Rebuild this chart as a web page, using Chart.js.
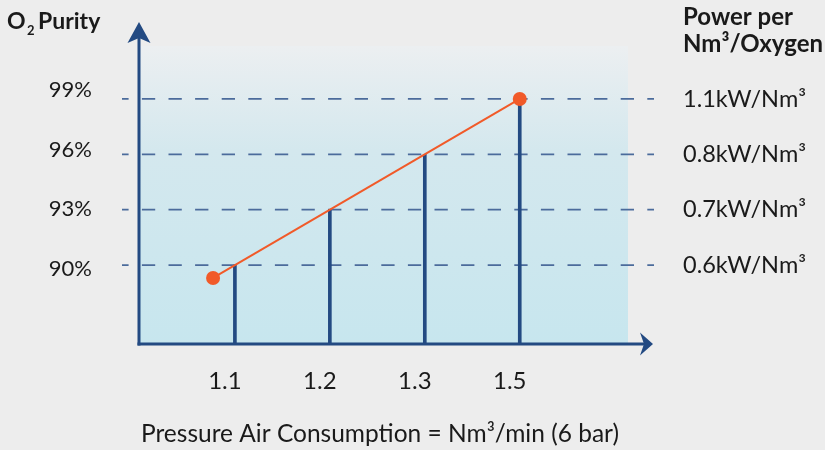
<!DOCTYPE html>
<html>
<head>
<meta charset="utf-8">
<script src="https://cdn.jsdelivr.net/npm/chart.js@4.4.1/dist/chart.umd.min.js"></script>
<style>
  html, body { margin: 0; padding: 0; background: #ededed; }
  #wrap { width: 825px; height: 450px; }
</style>
</head>
<body>
<div id="wrap"><canvas id="chart"></canvas></div>
<script>
// Values
const xPositions = [1, 2, 3, 4];
const xLabels = ['1.1', '1.2', '1.3', '1.5'];
const purityLevels = [90, 93, 96, 99];
const purityLabels = ['90%', '93%', '96%', '99%'];
const powerLabels = ['0.6kW/Nm³', '0.7kW/Nm³', '0.8kW/Nm³', '1.1kW/Nm³'];
const trendX = [0.77, 4];
const trendY = [89.3, 99];

// Styling
const AXIS = '#234a82';
const DASH = '#4b6b9b';
const ORANGE = '#f15a29';
const TEXT = '#1a1a1a';
const FONT = 'Lato, "Open Sans", sans-serif';

// fixed axis box sizes, no extra padding from tick labels
function fixWidth(w) {
    return s => { s.width = w; s.paddingTop = 0; s.paddingBottom = 0; };
}

// Decoration: plot background, dashed guides, axes with arrow heads, headers
const decorPlugin = {
    id: 'decor',
    beforeDatasetsDraw(chart) {
        const { ctx, chartArea: a, scales } = chart;
        ctx.save();
        const g = ctx.createLinearGradient(0, a.top, 0, a.bottom);
        g.addColorStop(0, '#eceff1');
        g.addColorStop(0.35, '#d4e8ee');
        g.addColorStop(1, '#c7e6ee');
        ctx.fillStyle = g;
        ctx.fillRect(a.left, a.top, a.right - a.left, a.bottom - a.top);

        // dashed guides at each purity level
        ctx.strokeStyle = DASH;
        ctx.lineWidth = 1.8;
        ctx.setLineDash([13.3, 13.3]);
        ctx.lineDashOffset = 6.7;
        purityLevels.forEach(v => {
            const py = scales.y.getPixelForValue(v);
            ctx.beginPath();
            ctx.moveTo(a.left - 17, py);
            ctx.lineTo(a.right + 26, py);
            ctx.stroke();
        });
        ctx.restore();
    },
    afterDraw(chart) {
        const { ctx, chartArea: a } = chart;
        const x0 = a.left, y0 = a.bottom;
        ctx.save();
        ctx.strokeStyle = AXIS;
        ctx.fillStyle = AXIS;
        ctx.lineWidth = 3;

        // y axis + arrow
        ctx.beginPath();
        ctx.moveTo(x0, y0 + 1.5);
        ctx.lineTo(x0, a.top - 8);
        ctx.stroke();
        ctx.beginPath();
        ctx.moveTo(x0, a.top - 24);
        ctx.lineTo(x0 + 11.5, a.top - 3);
        ctx.lineTo(x0, a.top - 8);
        ctx.lineTo(x0 - 11.5, a.top - 3);
        ctx.closePath();
        ctx.fill();

        // x axis + arrow
        ctx.beginPath();
        ctx.moveTo(x0 - 1.5, y0);
        ctx.lineTo(a.right + 16, y0);
        ctx.stroke();
        ctx.beginPath();
        ctx.moveTo(a.right + 25, y0);
        ctx.lineTo(a.right + 12, y0 - 11.5);
        ctx.lineTo(a.right + 16, y0);
        ctx.lineTo(a.right + 12, y0 + 11.5);
        ctx.closePath();
        ctx.fill();

        // headers and x title
        ctx.fillStyle = TEXT;
        ctx.textBaseline = 'alphabetic';
        ctx.textAlign = 'left';
        ctx.font = 'bold 23px ' + FONT;
        ctx.fillText('O', 7, 29);
        ctx.fillText('Purity', 38, 29);
        ctx.font = 'bold 13px ' + FONT;
        ctx.fillText('2', 27, 35);
        ctx.font = 'bold 24px ' + FONT;
        ctx.fillText('Power per', 683, 25);
        ctx.fillText('Nm³/Oxygen', 683, 52);
        ctx.font = '24.5px ' + FONT;
        ctx.textAlign = 'center';
        ctx.fillText('Pressure Air Consumption = Nm³/min (6 bar)', 380, 442);
        ctx.restore();
    }
};

const Y_MIN = 85.72, Y_MAX = 101.87;

new Chart(document.getElementById('chart'), {
    data: {
        datasets: [
            {
                type: 'line',
                order: 0,
                data: trendX.map((x, i) => ({ x: x, y: trendY[i] })),
                borderColor: ORANGE,
                borderWidth: 2,
                pointRadius: 7,
                pointBackgroundColor: ORANGE,
                pointBorderWidth: 0,
                clip: false
            },
            {
                type: 'bar',
                order: 1,
                data: xPositions.map((x, i) => ({ x: x, y: purityLevels[i] })),
                backgroundColor: AXIS,
                barThickness: 3
            }
        ]
    },
    options: {
        responsive: true,
        maintainAspectRatio: false,
        animation: false,
        layout: { padding: { top: 46, left: 0, right: 0, bottom: 0 } },
        plugins: { legend: { display: false }, tooltip: { enabled: false } },
        scales: {
            x: {
                type: 'linear',
                offset: false,
                min: -0.01,
                max: 5.14,
                grid: { display: false, drawTicks: false },
                border: { display: false },
                afterBuildTicks: axis => { axis.ticks = xPositions.map(v => ({ value: v })); },
                afterFit: s => { s.height = 106; s.paddingLeft = 0; s.paddingRight = 0; },
                ticks: {
                    padding: 23,
                    labelOffset: -10,
                    color: TEXT,
                    font: { family: FONT, size: 24 },
                    callback: v => xLabels[xPositions.indexOf(v)]
                }
            },
            y: {
                type: 'linear',
                display: false,
                min: Y_MIN,
                max: Y_MAX
            },
            yl: {
                type: 'linear',
                position: 'left',
                min: 86.19,
                max: 101.22,
                grid: { display: false, drawTicks: false },
                border: { display: false },
                afterBuildTicks: axis => { axis.ticks = purityLevels.map(v => ({ value: v })); },
                afterFit: fixWidth(139),
                ticks: {
                    padding: 47,
                    color: TEXT,
                    font: { family: FONT, size: 22 },
                    callback: v => purityLabels[purityLevels.indexOf(v)]
                }
            },
            y2: {
                type: 'linear',
                position: 'right',
                min: Y_MIN,
                max: Y_MAX,
                grid: { display: false, drawTicks: false },
                border: { display: false },
                afterBuildTicks: axis => { axis.ticks = purityLevels.map(v => ({ value: v })); },
                afterFit: fixWidth(197),
                ticks: {
                    padding: 55,
                    color: TEXT,
                    font: { family: FONT, size: 23.5 },
                    callback: v => powerLabels[purityLevels.indexOf(v)]
                }
            }
        }
    },
    plugins: [decorPlugin]
});
</script>
</body>
</html>
